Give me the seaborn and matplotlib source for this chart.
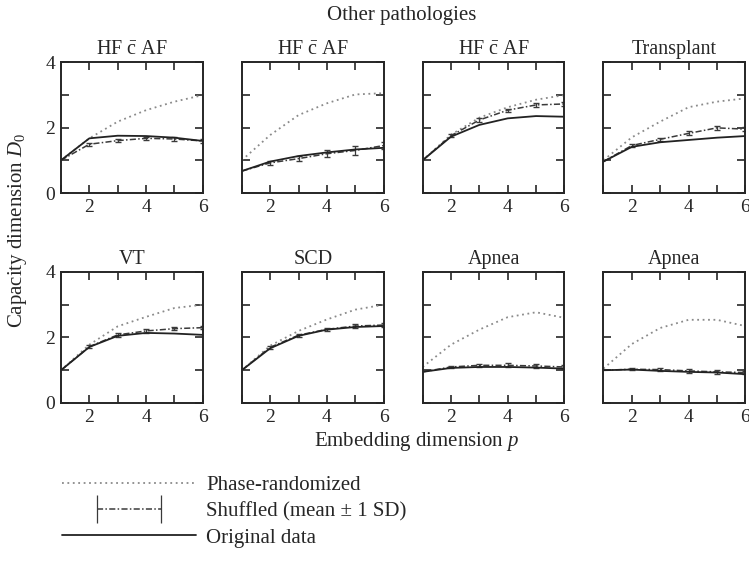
import numpy as np
import pandas as pd
import matplotlib
matplotlib.use("Agg")
import matplotlib.pyplot as plt
from matplotlib.lines import Line2D
from matplotlib.legend_handler import HandlerErrorbar
import seaborn as sns

# -----------------------------
# data
# -----------------------------
p = [1, 2, 3, 4, 5, 6]
titles = ["HF $\\bar{\\rm c}$ AF", "HF $\\bar{\\rm c}$ AF", "HF $\\bar{\\rm c}$ AF",
          "Transplant", "VT", "SCD", "Apnea", "Apnea"]

phase = [
    [1.00, 1.67, 2.18, 2.53, 2.79, 2.99],
    [1.00, 1.77, 2.38, 2.74, 3.01, 3.05],
    [1.00, 1.78, 2.30, 2.62, 2.85, 2.99],
    [1.00, 1.70, 2.18, 2.62, 2.79, 2.89],
    [1.00, 1.78, 2.34, 2.63, 2.90, 3.00],
    [1.00, 1.75, 2.20, 2.55, 2.85, 3.00],
    [1.10, 1.78, 2.24, 2.62, 2.77, 2.60],
    [1.05, 1.80, 2.29, 2.54, 2.54, 2.35],
]
original = [
    [1.00, 1.67, 1.75, 1.74, 1.69, 1.59],
    [0.67, 0.96, 1.13, 1.24, 1.33, 1.38],
    [1.00, 1.72, 2.08, 2.28, 2.35, 2.33],
    [0.96, 1.41, 1.55, 1.62, 1.69, 1.74],
    [1.00, 1.71, 2.05, 2.14, 2.12, 2.08],
    [1.00, 1.67, 2.05, 2.24, 2.32, 2.35],
    [0.95, 1.07, 1.10, 1.10, 1.08, 1.05],
    [1.00, 1.02, 0.98, 0.95, 0.93, 0.88],
]
shuffled = [
    [1.00, 1.49, 1.60, 1.67, 1.65, 1.59],
    [0.67, 0.92, 1.05, 1.20, 1.30, 1.45],
    [1.00, 1.75, 2.23, 2.53, 2.69, 2.72],
    [0.96, 1.45, 1.64, 1.82, 1.99, 1.95],
    [1.00, 1.72, 2.08, 2.20, 2.27, 2.30],
    [1.00, 1.70, 2.07, 2.25, 2.35, 2.38],
    [0.95, 1.10, 1.15, 1.15, 1.13, 1.10],
    [1.00, 1.03, 1.02, 0.98, 0.95, 0.93],
]
shuffled_sd = [
    [0.00, 0.04, 0.05, 0.05, 0.05, 0.05],
    [0.00, 0.06, 0.08, 0.10, 0.15, 0.10],
    [0.00, 0.04, 0.05, 0.05, 0.05, 0.05],
    [0.00, 0.04, 0.05, 0.06, 0.06, 0.06],
    [0.00, 0.04, 0.05, 0.05, 0.05, 0.05],
    [0.00, 0.04, 0.05, 0.05, 0.05, 0.05],
    [0.00, 0.04, 0.05, 0.06, 0.06, 0.06],
    [0.00, 0.03, 0.04, 0.05, 0.05, 0.05],
]

# -----------------------------
# style
# -----------------------------
sns.set_style("ticks")
plt.rcParams["font.family"] = ["Liberation Serif", "DejaVu Serif"]
plt.rcParams["mathtext.fontset"] = "custom"
plt.rcParams["mathtext.rm"] = "Liberation Serif"
plt.rcParams["mathtext.it"] = "Liberation Serif:italic"
plt.rcParams["axes.linewidth"] = 1.4

c_phase = "#8a8a8a"
c_shuf = "#3a3a3a"
c_orig = "#222222"
ls_phase = (0, (1, 2))
ls_shuf = (0, (4, 1.5, 1, 1.5))

fig, axes = plt.subplots(2, 4, figsize=(7.49, 5.64), dpi=100, sharey=True)
fig.subplots_adjust(left=0.0814, right=0.995, top=0.89, bottom=0.2855,
                    wspace=0.275, hspace=0.603)

for i, ax in enumerate(axes.flat):
    df = pd.DataFrame({"p": p, "phase": phase[i], "orig": original[i],
                       "shuf": shuffled[i], "sd": shuffled_sd[i]})
    sns.lineplot(data=df, x="p", y="phase", ax=ax, color=c_phase,
                 linestyle=ls_phase, linewidth=1.3)
    sns.lineplot(data=df, x="p", y="shuf", ax=ax, color=c_shuf,
                 linestyle=ls_shuf, linewidth=1.1)
    ax.errorbar(df["p"][1:], df["shuf"][1:], yerr=df["sd"][1:], fmt="none",
                ecolor=c_shuf, elinewidth=0.9, capsize=2)
    sns.lineplot(data=df, x="p", y="orig", ax=ax, color=c_orig,
                 linewidth=1.3)

    ax.set_xlim(1, 6)
    ax.set_ylim(0, 4)
    ax.set_xticks([1, 2, 3, 4, 5, 6])
    ax.set_xticklabels(["", "2", "", "4", "", "6"])
    ax.set_yticks([0, 1, 2, 3, 4])
    ax.set_yticklabels(["0", "", "2", "", "4"])
    ax.tick_params(direction="in", length=6, width=1.2, top=True, right=True,
                   labelsize=14, pad=4)
    ax.set_xlabel("")
    ax.set_ylabel("")
    ax.set_title(titles[i], fontsize=14.5, pad=6)

fig.text(0.536, 0.973, "Other pathologies", ha="center", va="center",
         fontsize=15)
fig.text(0.556, 0.218, "Embedding dimension $\\it{p}$", ha="center",
         va="center", fontsize=15)
fig.text(0.024, 0.592, "Capacity dimension $\\it{D}_0$", ha="center",
         va="center", rotation=90, fontsize=15)

# -----------------------------
# legend
# -----------------------------
h_phase = Line2D([], [], color=c_phase, linestyle=ls_phase, linewidth=1.3)
h_shuf = axes.flat[0].errorbar([], [], yerr=[], color=c_shuf,
                               linestyle=ls_shuf, linewidth=1.1,
                               elinewidth=0.9, capsize=3)
h_orig = Line2D([], [], color=c_orig, linewidth=1.3)

fig.legend([h_phase, h_shuf, h_orig],
           ["Phase-randomized", "Shuffled (mean \u00b1 1 SD)", "Original data"],
           loc="upper left", bbox_to_anchor=(0.075, 0.157), frameon=False,
           fontsize=15, handlelength=7.0, handletextpad=0.2,
           labelspacing=0.32, numpoints=2, borderpad=0, borderaxespad=0,
           handler_map={type(h_shuf): HandlerErrorbar(yerr_size=0.65,
                                                      marker_pad=1.95)})

fig.savefig("out.png", dpi=100)
